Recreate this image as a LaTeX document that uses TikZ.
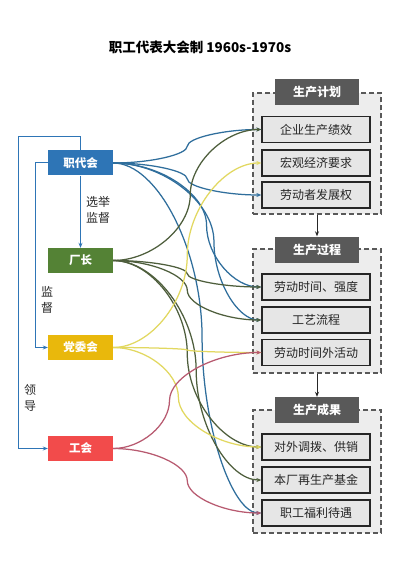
\documentclass[tikz,border=0pt]{standalone}
\usepackage{fontspec}
\setmainfont{Noto Sans CJK SC}
\usetikzlibrary{arrows.meta,calc}
\definecolor{cBlue}{HTML}{2E75B6}
\definecolor{lBlue}{HTML}{2F6E9C}
\definecolor{cGreen}{HTML}{548235}
\definecolor{lGreen}{HTML}{4E5E3C}
\definecolor{cGold}{HTML}{E9B80C}
\definecolor{lYellow}{HTML}{E2D860}
\definecolor{cRed}{HTML}{F24B4B}
\definecolor{lRed}{HTML}{B85A70}
\definecolor{cTab}{HTML}{595959}
\definecolor{cGrp}{HTML}{EDEDED}
\definecolor{cItem}{HTML}{E6E6E6}
\definecolor{cTxt}{HTML}{262626}
\tikzset{
  lbox/.style={minimum width=65pt,minimum height=25pt,inner sep=0pt,text=white,font=\fontsize{11.5}{12}\selectfont\bfseries},
  itembox/.style={draw=cTxt,line width=1.3pt,fill=cItem,minimum width=108pt,minimum height=26pt,inner sep=0pt,text=cTxt,font=\fontsize{12}{12}\selectfont},
  tabbox/.style={fill=cTab,minimum width=84pt,minimum height=26pt,inner sep=0pt,text=white,font=\fontsize{12}{12}\selectfont\bfseries},
  grpbox/.style={draw=cTab,dash pattern=on 5pt off 3pt,line width=1.3pt,fill=cGrp,minimum width=128pt,inner sep=0pt},
  conn/.style={line width=1.25pt,-{Stealth[length=5pt,width=4pt]}},
  loopline/.style={draw=cBlue,line width=1pt,-{Stealth[length=5pt,width=4pt]}},
  flowarrow/.style={draw=cTxt,line width=0.9pt,-{Stealth[length=5pt,width=4pt]}},
  sidelabel/.style={inner sep=0pt,align=center,text=cTxt,font=\fontsize{12}{16}\selectfont},
}
\newcommand{\pconn}[4]{%
  \path let \p1=(#2.east), \p2=(#3.west) in
    coordinate (cA) at ({\x1+#4*(\x2-\x1)/2}, \y1)
    coordinate (cB) at ({\x1+#4*(\x2-\x1)}, {\y1+0.25*(\y2-\y1)})
    coordinate (cM) at ({\x1+#4*(\x2-\x1)}, {0.5*(\y1+\y2)})
    coordinate (cC) at ({\x1+#4*(\x2-\x1)}, {\y1+0.75*(\y2-\y1)})
    coordinate (cD) at ({0.5*(\x2+\x1+#4*(\x2-\x1))}, \y2);
  \draw[conn,#1] (#2.east) .. controls (cA) and (cB) .. (cM) .. controls (cC) and (cD) .. (#3.west);
}
\begin{document}
\begin{tikzpicture}[x=1pt,y=-1pt]
\fill[white] (0,0) rectangle (400,577);
\useasboundingbox (0,0) rectangle (400,577);
% title
\node[font=\fontsize{13.5}{14}\selectfont\bfseries,text=black] (title) at (200,47) {职工代表大会制 1960s-1970s};
% groups
\node[grpbox,minimum height=121pt] (g1) at (317,153.5) {};
\node[grpbox,minimum height=124pt] (g2) at (317,311) {};
\node[grpbox,minimum height=123pt] (g3) at (317,471.5) {};
\node[tabbox] (t1) at (317,92) {生产计划};
\node[tabbox] (t2) at (317,249.5) {生产过程};
\node[tabbox] (t3) at (317,410) {生产成果};
\draw[flowarrow] (g1.south) -- (t2.north);
\draw[flowarrow] (g2.south) -- (t3.north);
% items
\node[itembox] (a1) at (316,129.5) {企业生产绩效};
\node[itembox] (a2) at (316,163) {宏观经济要求};
\node[itembox] (a3) at (316,195) {劳动者发展权};
\node[itembox] (b1) at (316,287) {劳动时间、强度};
\node[itembox] (b2) at (316,320) {工艺流程};
\node[itembox] (b3) at (316,352.5) {劳动时间外活动};
\node[itembox] (c1) at (316,447) {对外调拨、供销};
\node[itembox] (c2) at (316,480) {本厂再生产基金};
\node[itembox] (c3) at (316,513) {职工福利待遇};
% left boxes
\node[lbox,fill=cBlue] (zdh) at (80.5,163) {职代会};
\node[lbox,fill=cGreen] (cz) at (80.5,260.5) {厂长};
\node[lbox,fill=cGold] (dwh) at (80.5,347.5) {党委会};
\node[lbox,fill=cRed] (gh) at (80.5,448.5) {工会};
% left loops
\coordinate (o1) at (18,137);
\coordinate (i1) at (35,163);
\draw[loopline] (zdh.north) |- (o1) |- (gh.west);
\draw[loopline] (zdh.west) -- (i1) |- (dwh.west);
\draw[loopline] (zdh.south) -- (cz.north);
\node[sidelabel] (l1) at (98,210) {选举\\监督};
\node[sidelabel] (l2) at (47,300) {监\\督};
\node[sidelabel] (l3) at (30,398) {领\\导};
% connectors
\pconn{lBlue}{zdh}{a1}{0.5}
\pconn{lBlue}{zdh}{a3}{0.5}
\pconn{lBlue}{zdh}{b1}{0.63}
\pconn{lBlue}{zdh}{b2}{0.68}
\pconn{lBlue}{zdh}{c3}{0.6}
\pconn{lGreen}{cz}{a1}{0.52}
\pconn{lGreen}{cz}{b1}{0.5}
\pconn{lGreen}{cz}{b2}{0.5}
\pconn{lGreen}{cz}{c1}{0.5}
\pconn{lGreen}{cz}{c2}{0.56}
\pconn{lYellow}{dwh}{a2}{0.5}
\pconn{lYellow}{dwh}{b3}{0.5}
\pconn{lYellow}{dwh}{c1}{0.44}
\pconn{lRed}{gh}{b3}{0.38}
\pconn{lRed}{gh}{c3}{0.5}
\end{tikzpicture}
\end{document}
